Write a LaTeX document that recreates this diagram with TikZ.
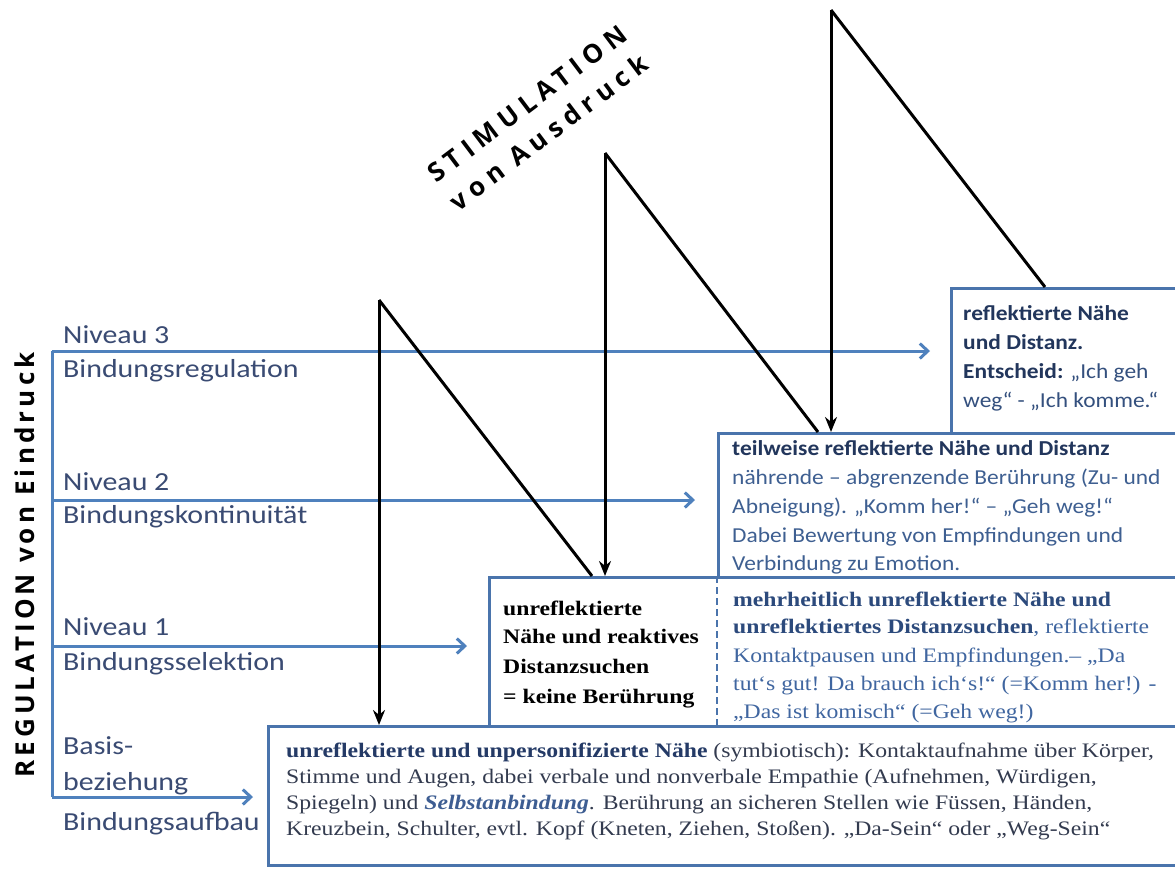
\documentclass[tikz,border=0pt]{standalone}
\usepackage{fontspec}
\setmainfont{Liberation Serif}
\newfontfamily\calf[FakeStretch=1.15]{Carlito}
\newfontfamily\calb[FakeStretch=1.1]{Carlito}
\newfontfamily\serf[FakeStretch=1.15]{Liberation Serif}
\newfontfamily\rotf[LetterSpace=16]{Open Sans}
\newfontfamily\rotg[LetterSpace=24]{Open Sans}
\usetikzlibrary{arrows.meta}
\definecolor{labc}{HTML}{3A4B73}
\definecolor{navyc}{HTML}{22365C}
\definecolor{rregc}{HTML}{34507E}
\definecolor{tregc}{HTML}{3E5F91}
\definecolor{mboldc}{HTML}{2C4A7C}
\definecolor{mregc}{HTML}{4066A0}
\definecolor{bregc}{HTML}{333B4F}
\definecolor{bboldc}{HTML}{243A66}
\definecolor{bitalc}{HTML}{3D5D92}
\definecolor{bluec}{HTML}{4F81BD}
\definecolor{boxc}{HTML}{4A74AC}
\tikzset{
  lab/.style={anchor=base west, inner sep=0pt, font=\calf\fontsize{26}{30}\selectfont, text=labc},
  sans/.style={anchor=base west, inner sep=0pt, font=\calb\fontsize{21.3}{28}\selectfont},
  ser/.style={anchor=base west, inner sep=0pt, font=\serf\fontsize{20.6}{26}\selectfont},
  serb/.style={ser, text=black, font=\serf\bfseries\fontsize{20.6}{26}\selectfont},
  bx/.style={draw=boxc, line width=3pt, fill=white, inner sep=0pt, anchor=north west},
  blu/.style={draw=bluec, line width=3pt},
  bluarr/.style={blu, -{Straight Barb[length=8pt,width=15pt,line width=3pt]}},
  blk/.style={draw=black, line width=3pt},
  blkarr/.style={blk, -{Stealth[length=15pt,width=12pt]}},
}
\begin{document}
\begin{tikzpicture}[x=1pt,y=-1pt]
\clip (0,0) rectangle (1175,868);
\fill[white] (0,0) rectangle (1175,868);

% boxes (back to front)
\node[bx, minimum width=250pt, minimum height=160pt] (R) at (950,287) {};
\node[bx, minimum width=480pt, minimum height=160pt] (T) at (717,432) {};
\node[bx, minimum width=710pt, minimum height=160pt] (M) at (488,576) {};
\coordinate (dv1) at (717,576);
\coordinate (dv2) at (717,725);
\draw[draw=boxc, line width=2.5pt, dash pattern=on 7pt off 4pt] (dv1) -- (dv2);
\node[bx, minimum width=930pt, minimum height=139pt] (B) at (267,725) {};

% blue regulation system
\coordinate (n3) at (52,351);
\coordinate (n2) at (52,500);
\coordinate (n1) at (52,646);
\coordinate (n0) at (52,797);
\draw[blu] (n3) -- (n0);
\draw[bluarr, shorten >=20pt] (n3) -- (R.west |- n3);
\draw[bluarr, shorten >=22pt] (n2) -- (T.west |- n2);
\draw[bluarr, shorten >=21pt] (n1) -- (M.west |- n1);
\draw[bluarr, shorten >=14pt] (n0) -- (B.west |- n0);

% black stimulation zigzags
\coordinate (z1) at (379,300);
\coordinate (z2) at (605,153);
\coordinate (z3) at (831,10);
\coordinate (e1) at (592,576);
\coordinate (e2) at (818,432);
\coordinate (e3) at (1045,287);
\draw[blkarr] (z1) -- (z1 |- B.north);
\draw[blk] (z1) -- (e1);
\draw[blkarr] (z2) -- (z2 |- M.north);
\draw[blk] (z2) -- (e2);
\draw[blkarr] (z3) -- (z3 |- T.north);
\draw[blk] (z3) -- (e3);

% rotated titles
\node[font=\rotf\bfseries\fontsize{26}{30}\selectfont, rotate=90, inner sep=0pt] (reg) at (25,565) {REGULATION von Eindruck};
\node[font=\rotg\bfseries\fontsize{26}{36}\selectfont, rotate=37, align=center, inner sep=0pt] (stim) at (538,118) {STIMULATION\\von Ausdruck};

% left labels
\node[lab] (a1) at (63,343) {Niveau 3};
\node[lab] (a2) at (63,377) {Bindungsregulation};
\node[lab] (a3) at (63,490) {Niveau 2};
\node[lab] (a4) at (63,523) {Bindungskontinuität};
\node[lab] (a5) at (63,635) {Niveau 1};
\node[lab] (a6) at (63,670) {Bindungsselektion};
\node[lab] (a7) at (63,754) {Basis-};
\node[lab] (a8) at (63,790) {beziehung};
\node[lab] (a9) at (63,830) {Bindungsaufbau};

% reflektierte box text
\node[sans, text=rregc] (r1) at (963,320) {\textbf{\color{navyc}reflektierte Nähe}};
\node[sans, text=rregc] (r2) at (963,349) {\textbf{\color{navyc}und Distanz.}};
\node[sans, text=rregc] (r3) at (963,378) {\textbf{\color{navyc}Entscheid:} „Ich geh};
\node[sans, text=rregc] (r4) at (963,407) {weg“ - „Ich komme.“};

% teilweise box text
\node[sans, text=tregc] (t1) at (732,455) {\textbf{\color{navyc}teilweise reflektierte Nähe und Distanz}};
\node[sans, text=tregc] (t2) at (732,484) {nährende – abgrenzende Berührung (Zu- und};
\node[sans, text=tregc] (t3) at (732,513) {Abneigung). „Komm her!“ – „Geh weg!“};
\node[sans, text=tregc] (t4) at (732,542) {Dabei Bewertung von Empfindungen und};
\node[sans, text=tregc] (t5) at (732,570) {Verbindung zu Emotion.};

% middle box text
\node[serb] (m1) at (503,615) {unreflektierte};
\node[serb] (m2) at (503,643) {Nähe und reaktives};
\node[serb] (m3) at (503,673) {Distanzsuchen};
\node[serb] (m4) at (503,703) {= keine Berührung};

\node[ser, text=mregc] (h1) at (733,606) {\textbf{\color{mboldc}mehrheitlich unreflektierte Nähe und}};
\node[ser, text=mregc] (h2) at (733,633) {\textbf{\color{mboldc}unreflektiertes Distanzsuchen}, reflektierte};
\node[ser, text=mregc] (h3) at (733,662) {Kontaktpausen und Empfindungen.– „Da};
\node[ser, text=mregc] (h4) at (733,690) {tut‘s gut! Da brauch ich‘s!“ (=Komm her!) -};
\node[ser, text=mregc] (h5) at (733,718) {„Das ist komisch“ (=Geh weg!)};

% basis box text
\node[ser, text=bregc] (b1) at (286,757) {\textbf{\color{bboldc}unreflektierte und unpersonifizierte Nähe} (symbiotisch): Kontaktaufnahme über Körper,};
\node[ser, text=bregc] (b2) at (286,783) {Stimme und Augen, dabei verbale und nonverbale Empathie (Aufnehmen, Würdigen,};
\node[ser, text=bregc] (b3) at (286,809) {Spiegeln) und \textbf{\itshape\color{bitalc}Selbstanbindung}. Berührung an sicheren Stellen wie Füssen, Händen,};
\node[ser, text=bregc] (b4) at (286,835) {Kreuzbein, Schulter, evtl. Kopf (Kneten, Ziehen, Stoßen). „Da-Sein“ oder „Weg-Sein“};
\end{tikzpicture}
\end{document}
